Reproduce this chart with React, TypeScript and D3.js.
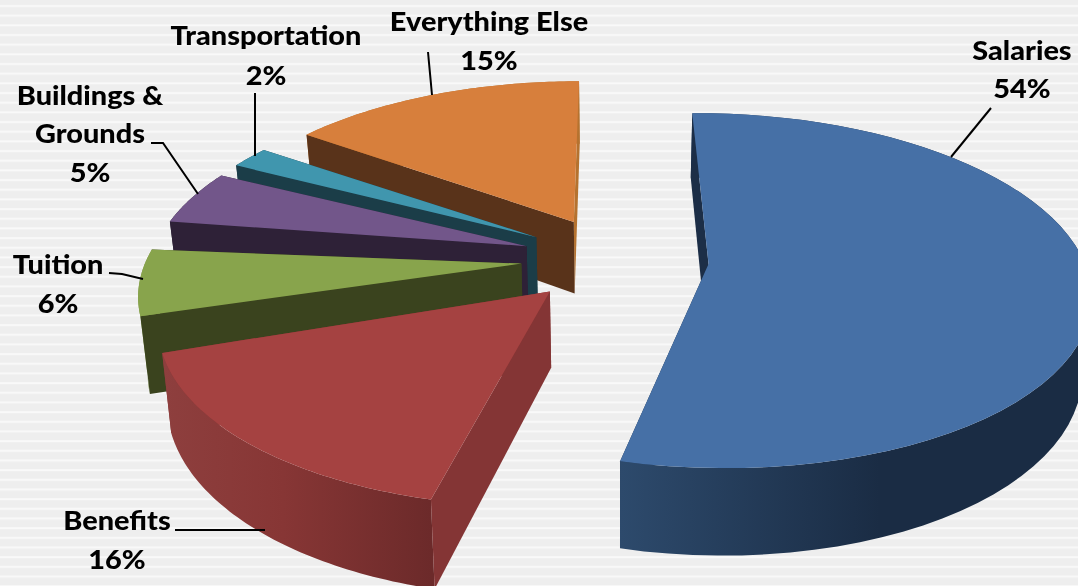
import React from "react";
import * as d3 from "d3";

// Budget shares, in percent, clockwise from the far side of the pie.
const categories = ["Salaries", "Benefits", "Tuition", "Buildings & Grounds", "Transportation", "Everything Else"];
const shares = [54, 16, 6, 5, 2, 15];
// The rounded shares add up to 98; the spare angle is left open as small gaps after each slice.
const gapsAfterDeg = [0, 1.8, 3.9, 1.0, 1.2, 0];

// Colours per slice: top face, start radial wall, end radial wall.
const topColors = ["#4670a6", "#a54241", "#88a44c", "#72568a", "#4096ae", "#d77f3c"];
const startWallColors = ["#1c2e47", "#843535", "#3a431e", "#2e2137", "#1b3d48", "#59331a"];
const endWallColors = ["#1c2e47", "#843535", "#3a431e", "#2e2137", "#1b3d48", "#b5722f"];
const rimStops = [
  [["0", "#2d4a6c"], ["0.55", "#1a2c44"], ["1", "#1a2c44"]],
  [["0", "#8e3f3e"], ["0.45", "#873635"], ["1", "#6c2a2a"]],
  [["0", "#7d9646"], ["1", "#7d9646"]],
  [["0", "#2e2137"], ["1", "#2e2137"]],
  [["0", "#1b3d48"], ["1", "#1b3d48"]],
  [["0", "#b5722f"], ["1", "#b5722f"]],
];

// Camera of the tilted pie.
const W = 1078;
const H = 586;
const CENTER_X = 615;
const CENTER_Y = 259;
const SCALE_X = 375;
const SCALE_Y = 172;
const PERSPECTIVE = 0.15;
const DEPTH = 74;
const CONVERGE = 0.02;
const EXPLODE = 0.25;
const START_DEG = -0.7;
const DEG_PER_PERCENT = 3.6;

const rad = (d: number) => (d * Math.PI) / 180;

function project(gx: number, gz: number, h: number): [number, number] {
  const p = 1 / (1 + PERSPECTIVE * gz);
  return [CENTER_X + SCALE_X * gx * p * (1 - CONVERGE * h), CENTER_Y - SCALE_Y * gz * p + DEPTH * h * p];
}

const line = d3.line<[number, number]>().curve(d3.curveLinear);
const closed = (pts: [number, number][]) => line(pts) + "Z";

const pie = d3
  .pie<number>()
  .sort(null)
  .startAngle(0)
  .endAngle(rad(d3.sum(shares) * DEG_PER_PERCENT));

const gapOffsets = d3.cumsum([0, ...gapsAfterDeg]);

const slices = pie(shares).map((arc, i) => {
  const shift = rad(START_DEG + gapOffsets[i]);
  const a0 = arc.startAngle + shift;
  const a1 = arc.endAngle + shift;
  const mid = (a0 + a1) / 2;
  const ox = EXPLODE * Math.sin(mid);
  const oz = EXPLODE * Math.cos(mid);
  const rimAngles = d3.range(0, 61).map((t) => a0 + ((a1 - a0) * t) / 60);
  const rim = (h: number) =>
    rimAngles.map((a) => project(ox + Math.sin(a), oz + Math.cos(a), h));
  const apex = (h: number) => project(ox, oz, h);
  const top = rim(0);
  const bottom = rim(1);
  return {
    i,
    top: closed([apex(0), ...top]),
    outer: closed([...top, ...bottom.slice().reverse()]),
    startWall: closed([apex(0), top[0], bottom[0], apex(1)]),
    endWall: closed([apex(0), top[60], bottom[60], apex(1)]),
    xExtent: d3.extent(top, (d) => d[0]) as [number, number],
  };
});

// Labels and their leader lines.
const labelLines = [
  { lines: ["Salaries", "54%"], x: 1022, y: [60, 98] },
  { lines: ["Benefits", "16%"], x: 117, y: [530, 569] },
  { lines: ["Tuition", "6%"], x: 58, y: [274, 313] },
  { lines: ["Buildings &", "Grounds", "5%"], x: 90, y: [105, 143, 182] },
  { lines: ["Transportation", "2%"], x: 266, y: [45, 85] },
  { lines: ["Everything Else", "15%"], x: 489, y: [31, 70] },
];
const leaders: [number, number][][] = [
  [[991, 108], [951, 157]],
  [[175, 530], [265, 530]],
  [[109, 273], [122, 274], [143, 279]],
  [[151, 143], [163, 143], [198, 194]],
  [[255, 93], [255, 156]],
  [[428, 52], [432, 95]],
];

export default function App() {
  const order = [5, 4, 3, 2, 1, 0];
  return (
    <svg
      width={W}
      height={H}
      viewBox={`0 0 ${W} ${H}`}
      style={{ position: "fixed", left: 0, top: 0, display: "block" }}
    >
      <defs>
        <pattern id="stripes" width={W} height={9.67} patternUnits="userSpaceOnUse" y={1}>
          <rect width={W} height={9.67} fill="#eeeeee" />
          <rect y={4} width={W} height={2} fill="#f9f9f9" />
        </pattern>
        {slices.map((s) => (
          <linearGradient
            key={s.i}
            id={`rim-${s.i}`}
            gradientUnits="userSpaceOnUse"
            x1={s.xExtent[0]}
            x2={s.xExtent[1]}
            y1={0}
            y2={0}
          >
            {rimStops[s.i].map(([o, c]) => (
              <stop key={o} offset={o} stopColor={c} />
            ))}
          </linearGradient>
        ))}
      </defs>
      <rect width={W} height={H} fill="url(#stripes)" />
      {order.map((i) => {
        const s = slices[i];
        return (
          <g key={categories[i]}>
            <path d={s.endWall} fill={endWallColors[i]} />
            <path d={s.outer} fill={`url(#rim-${i})`} />
            <path d={s.startWall} fill={startWallColors[i]} />
            <path d={s.top} fill={topColors[i]} />
          </g>
        );
      })}
      {leaders.map((pts, i) => (
        <path key={i} d={line(pts) ?? ""} fill="none" stroke="#000" strokeWidth={2} />
      ))}
      {labelLines.map((l) =>
        l.lines.map((t, j) => (
          <text
            key={t}
            transform={`translate(${l.x},${l.y[j]}) scale(1.07,1)`}
            textAnchor="middle"
            fontFamily="Lato, sans-serif"
            fontWeight={900}
            fontSize={27}
            fill="#000"
          >
            {t}
          </text>
        ))
      )}
    </svg>
  );
}
